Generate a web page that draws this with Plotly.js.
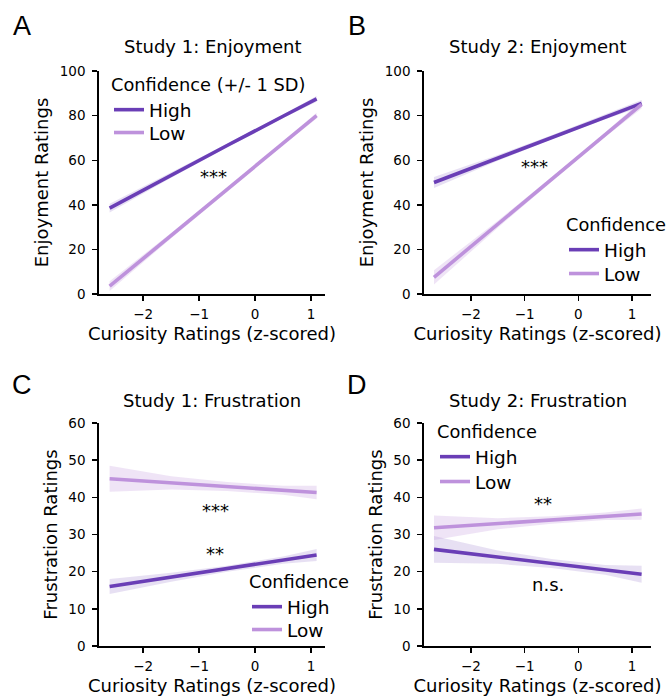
<!DOCTYPE html>
<html>
<head>
<meta charset="utf-8">
<script src="https://cdn.plot.ly/plotly-3.0.1.min.js"></script>
<style>html,body{margin:0;padding:0;background:#fff}#chart{width:669px;height:696px}</style>
</head>
<body>
<div id="chart"></div>
<script>
// ---- Data ----
const xStudy1 = [-2.6, -1.5, -0.5, 0.5, 1.1];
const xStudy2 = [-2.69, -1.5, -0.5, 0.5, 1.18];
const xTicks = [-2, -1, 0, 1];

// Panel A: Study 1 Enjoyment
const aHigh = [38.5, 53.3, 66.6, 79.7, 87.5];
const aHighLo = [36.5, 52.1, 65.8, 78.9, 86.2];
const aHighUp = [40.5, 54.5, 67.4, 80.5, 88.8];
const aLow = [3.5, 26.2, 46.9, 67.6, 80.0];
const aLowLo = [1.3, 25.0, 46.1, 66.8, 78.7];
const aLowUp = [5.7, 27.4, 47.7, 68.4, 81.3];

// Panel B: Study 2 Enjoyment
const bHigh = [50.0, 61.0, 70.3, 79.4, 85.5];
const bHighLo = [47.5, 59.7, 69.4, 78.4, 84.0];
const bHighUp = [52.5, 62.3, 71.2, 80.4, 87.0];
const bLow = [7.5, 31.3, 51.3, 71.4, 85.0];
const bLowLo = [4.3, 29.7, 50.3, 70.4, 83.2];
const bLowUp = [10.7, 32.9, 52.3, 72.4, 86.8];

// Panel C: Study 1 Frustration
const cHigh = [16.0, 18.5, 20.8, 23.1, 24.5];
const cHighLo = [14.0, 17.3, 20.0, 22.1, 22.9];
const cHighUp = [18.0, 19.7, 21.6, 24.1, 26.1];
const cLow = [45.0, 43.9, 42.9, 41.9, 41.3];
const cLowLo = [41.5, 42.1, 41.7, 40.7, 39.5];
const cLowUp = [48.5, 45.7, 44.1, 43.1, 43.1];

// Panel D: Study 2 Frustration
const dHigh = [26.0, 23.9, 22.2, 20.5, 19.3];
const dHighLo = [22.4, 22.1, 21.0, 19.2, 17.0];
const dHighUp = [29.6, 25.7, 23.4, 21.8, 21.6];
const dLow = [31.8, 32.9, 33.9, 34.9, 35.5];
const dLowLo = [28.5, 31.4, 32.9, 33.9, 34.0];
const dLowUp = [35.1, 34.4, 34.9, 35.9, 37.0];

const panelTitles = ["Study 1: Enjoyment", "Study 2: Enjoyment", "Study 1: Frustration", "Study 2: Frustration"];
const panelLetters = ["A", "B", "C", "D"];
const yTitles = ["Enjoyment Ratings", "Enjoyment Ratings", "Frustration Ratings", "Frustration Ratings"];
const xTitle = "Curiosity Ratings (z-scored)";
const legendTitles = ["Confidence (+/- 1 SD)", "Confidence", "Confidence", "Confidence"];
const seriesNames = ["High", "Low"];

// significance labels per panel: text, x, y (data coords)
const sigA = [["***", -0.75, 52.5]];
const sigB = [["***", -0.82, 57]];
const sigC = [["***", -0.71, 36.5], ["**", -0.71, 25]];
const sigD = [["**", -0.65, 38.3], ["n.s.", -0.57, 16.6]];

// ---- Styling ----
const HIGH = "rgb(106,62,182)";
const LOW = "rgb(190,146,220)";
const HIGH_FILL = "rgba(106,62,182,0.16)";
const LOW_FILL = "rgba(190,146,220,0.25)";
const W = 669, H = 696;
const FONT = "DejaVu Sans, Verdana, sans-serif";

const panels = [
  {x: xStudy1, hi: aHigh, hiLo: aHighLo, hiUp: aHighUp, lo: aLow, loLo: aLowLo, loUp: aLowUp, sig: sigA},
  {x: xStudy2, hi: bHigh, hiLo: bHighLo, hiUp: bHighUp, lo: bLow, loLo: bLowLo, loUp: bLowUp, sig: sigB},
  {x: xStudy1, hi: cHigh, hiLo: cHighLo, hiUp: cHighUp, lo: cLow, loLo: cLowLo, loUp: cLowUp, sig: sigC},
  {x: xStudy2, hi: dHigh, hiLo: dHighLo, hiUp: dHighUp, lo: dLow, loLo: dLowLo, loUp: dLowUp, sig: sigD}
];

// pixel geometry
const colPx = [[99, 325], [424, 651]];
const rowPx = [[71, 294], [423, 646]];
const xRanges = [[-2.79, 1.25], [-2.876, 1.355], [-2.79, 1.25], [-2.876, 1.355]];
const yRanges = [[0, 100], [0, 100], [0, 60], [0, 60]];
const yTicks = [[0, 20, 40, 60, 80, 100], [0, 20, 40, 60, 80, 100], [0, 10, 20, 30, 40, 50, 60], [0, 10, 20, 30, 40, 50, 60]];

// legend placement (px): [left, top of High legend (with title), top of Low legend]
const legendPx = [[109, 68, 114], [564, 208, 255], [247, 565, 611], [435, 415, 463]];

const traces = [];
const layout = {
  width: W, height: H,
  margin: {l: 0, r: 0, t: 0, b: 0},
  paper_bgcolor: "#fff", plot_bgcolor: "rgba(0,0,0,0)",
  font: {family: FONT, color: "#000"},
  annotations: [],
  showlegend: true
};

panels.forEach((p, i) => {
  const sfx = i === 0 ? "" : String(i + 1);
  const xa = "x" + sfx, ya = "y" + sfx;
  const col = i % 2, row = Math.floor(i / 2);
  const legHigh = i === 0 ? "legend" : "legend" + (i + 1);
  const legLow = "legend" + (i + 5);

  // confidence bands
  [[p.hiLo, p.hiUp, HIGH_FILL], [p.loLo, p.loUp, LOW_FILL]].forEach(b => {
    traces.push({
      type: "scatter", mode: "lines", xaxis: xa, yaxis: ya,
      x: p.x.concat(p.x.slice().reverse()),
      y: b[1].concat(b[0].slice().reverse()),
      fill: "toself", fillcolor: b[2], line: {width: 0, color: "rgba(0,0,0,0)"},
      hoverinfo: "skip", showlegend: false
    });
  });
  // regression lines
  [[p.hi, HIGH, seriesNames[0], legHigh], [p.lo, LOW, seriesNames[1], legLow]].forEach(s => {
    traces.push({
      type: "scatter", mode: "lines", xaxis: xa, yaxis: ya,
      x: p.x, y: s[0], name: s[2], line: {color: s[1], width: 3.6},
      legend: s[3], showlegend: true
    });
  });

  layout["xaxis" + sfx] = {
    domain: [colPx[col][0] / W, colPx[col][1] / W],
    anchor: ya, range: xRanges[i], tickvals: xTicks,
    showgrid: false, zeroline: false, showline: true, linecolor: "#000", linewidth: 1.8,
    ticks: "outside", ticklen: 5, tickwidth: 1.4, tickcolor: "#000",
    tickfont: {size: 13.5, family: FONT, color: "#000"}, ticklabelstandoff: 2,
    title: {text: xTitle, font: {size: 18, family: FONT, color: "#000"}, standoff: 6},
    automargin: false, fixedrange: true
  };
  layout["yaxis" + sfx] = {
    domain: [1 - rowPx[row][1] / H, 1 - rowPx[row][0] / H],
    anchor: xa, range: yRanges[i], tickvals: yTicks[i],
    showgrid: false, zeroline: false, showline: true, linecolor: "#000", linewidth: 1.8,
    ticks: "outside", ticklen: 5, tickwidth: 1.4, tickcolor: "#000",
    tickfont: {size: 13.5, family: FONT, color: "#000"}, ticklabelstandoff: 4,
    title: {text: yTitles[i], font: {size: 18, family: FONT, color: "#000"}, standoff: 6},
    automargin: false, fixedrange: true
  };

  const legBase = {
    xanchor: "left", yanchor: "top", bgcolor: "rgba(0,0,0,0)", borderwidth: 0,
    font: {size: 18.5, family: FONT, color: "#000"}, traceorder: "normal", itemwidth: 30, tracegroupgap: 0
  };
  layout[legHigh] = Object.assign({}, legBase, {
    x: legendPx[i][0] / W, y: 1 - legendPx[i][1] / H,
    title: {text: legendTitles[i], font: {size: 17.8, family: FONT, color: "#000"}, side: "top"}
  });
  layout[legLow] = Object.assign({}, legBase, {
    x: legendPx[i][0] / W, y: 1 - legendPx[i][2] / H
  });

  // panel title
  layout.annotations.push({
    xref: "paper", yref: "paper", x: (colPx[col][0] + colPx[col][1]) / 2 / W,
    y: 1 - (row === 0 ? 47 : 400) / H, xanchor: "center", yanchor: "middle",
    text: panelTitles[i], showarrow: false, font: {size: 18, family: FONT, color: "#000"}
  });
  // panel letter
  layout.annotations.push({
    xref: "paper", yref: "paper", x: (col === 0 ? 22 : 357) / W,
    y: 1 - (row === 0 ? 26 : 385) / H, xanchor: "center", yanchor: "middle",
    text: panelLetters[i], showarrow: false, font: {size: 27, family: "Liberation Sans, Arial, sans-serif", color: "#000"}
  });
  // significance labels
  p.sig.forEach(s => {
    layout.annotations.push({
      xref: xa, yref: ya, x: s[1], y: s[2], xanchor: "center", yanchor: "middle",
      text: s[0], showarrow: false, font: {size: 18, family: FONT, color: "#000"}
    });
  });
});

Plotly.newPlot("chart", traces, layout, {staticPlot: true, displayModeBar: false});
</script>
</body>
</html>
